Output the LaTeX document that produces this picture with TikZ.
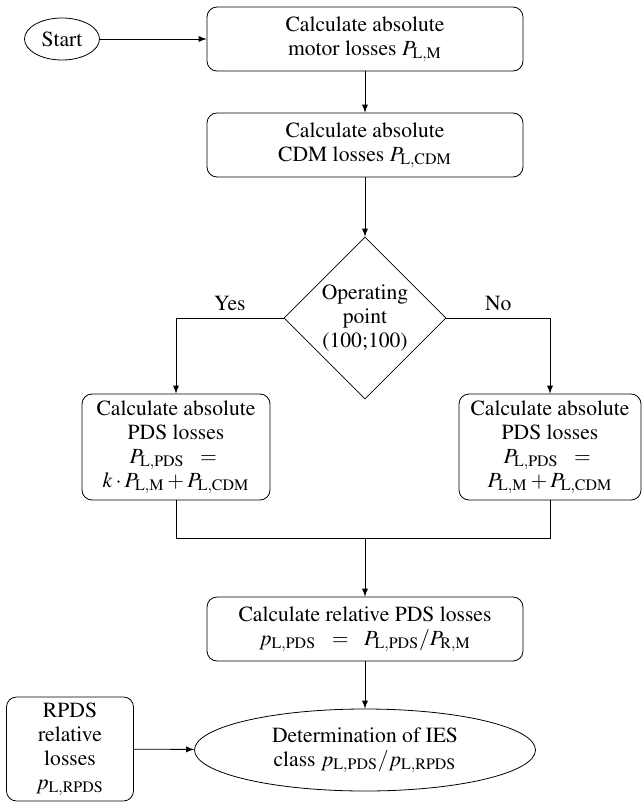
\documentclass[tikz,border=0pt]{standalone}
\usepackage[T1]{fontenc}
\usepackage{mathptmx}
\usetikzlibrary{positioning}
\usetikzlibrary{arrows}
\usetikzlibrary{shapes.geometric}
\tikzstyle{every block} = []
\tikzstyle{block} = [rectangle, draw, rounded corners=5pt, align=center, inner sep=2pt, every block]
\tikzstyle{terminal} = [ellipse, draw, align=center, inner sep=1pt]
\tikzstyle{decision} = [diamond, draw, align=center, aspect=1, inner sep=0pt]
\tikzstyle{flow} = [->, draw]

\begin{document}
\begin{tikzpicture}[x=0.5pt, y=-0.5pt, >=latex, every node/.style={font=\fontsize{10.8}{12}\selectfont}]
        \useasboundingbox (0,0) rectangle (642,802);

        \node[terminal, minimum width=37.5pt, minimum height=21pt] (start) at (62,39) {Start};
        \node[block, minimum width=158pt, minimum height=32pt] (motor) at (365,39)
            {Calculate absolute\\motor losses $P_{\mathrm{L,M}}$};
        \node[block, minimum width=158pt, minimum height=32pt] (cdm) at (365,145)
            {Calculate absolute\\CDM losses $P_{\mathrm{L,CDM}}$};
        \node[decision, minimum size=81pt] (point) at (365,318)
            {Operating\\point\\(100;100)};

        \node[block, minimum width=94pt, minimum height=53pt] (pdsk) at (176,447)
            {Calculate absolute\\PDS losses\\$P_{\mathrm{L,PDS}}\ \ =\ $\\$k\cdot P_{\mathrm{L,M}}+P_{\mathrm{L,CDM}}$};
        \node[block, minimum width=91pt, minimum height=53pt] (pds) at (550,447)
            {Calculate absolute\\PDS losses\\$P_{\mathrm{L,PDS}}\ \ =\ $\\$P_{\mathrm{L,M}}+P_{\mathrm{L,CDM}}$};

        \coordinate (merge) at (365,538);

        \node[block, minimum width=158pt, minimum height=32pt] (relative) at (365,629)
            {Calculate relative PDS losses\\$p_{\mathrm{L,PDS}}\ \ =\ \ P_{\mathrm{L,PDS}}/P_{\mathrm{R,M}}$};
        \node[terminal, minimum width=170.5pt, minimum height=41pt] (ies) at (365,750)
            {Determination of IES\\class $p_{\mathrm{L,PDS}}/p_{\mathrm{L,RPDS}}$};
        \node[block, minimum width=63.5pt, minimum height=52pt] (rpds) at (70,749)
            {RPDS\\relative\\losses\\$p_{\mathrm{L,RPDS}}$};

        \draw[flow] (start) -- (motor);
        \draw[flow] (motor) -- (cdm);
        \draw[flow] (cdm) -- (point);
        \draw[flow] (point.west) -| node[pos=0.25, above] {Yes} (pdsk.north);
        \draw[flow] (point.east) -| node[pos=0.25, above] {No} (pds.north);
        \draw (pdsk.south) |- (merge);
        \draw (pds.south) |- (merge);
        \draw[flow] (merge) -- (relative);
        \draw[flow] (relative) -- (ies);
        \draw[flow] (rpds) -- (ies);
\end{tikzpicture}
\end{document}
